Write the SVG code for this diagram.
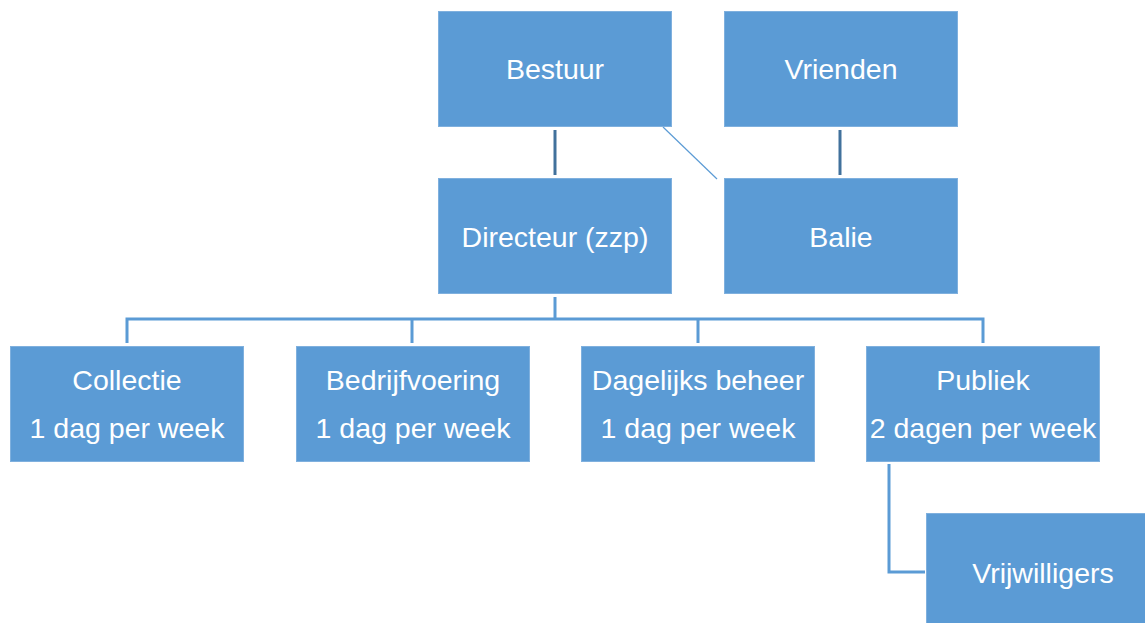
<svg xmlns="http://www.w3.org/2000/svg" width="1145" height="623" viewBox="0 0 1145 623">
<style>
.box{fill:#5B9BD5;stroke:#7FB0DE;stroke-width:1}
.t{font-family:"Liberation Sans",Arial,sans-serif;font-size:28.5px;fill:#FFFFFF;text-anchor:middle}
.c{fill:none;stroke:#5B9BD5;stroke-width:3}
.d{fill:none;stroke:#41719C;stroke-width:3}
.thin{fill:none;stroke:#5B9BD5;stroke-width:1.2}
</style>
<rect width="1145" height="623" fill="#FFFFFF"/>
<g id="connectors">
<line class="d" x1="555" y1="130" x2="555" y2="175"/>
<line class="d" x1="840" y1="130" x2="840" y2="175"/>
<line class="thin" x1="663" y1="127" x2="717" y2="179"/>
<polyline class="c" points="555,297 555,319"/>
<polyline class="c" points="127,343 127,319 983,319 983,343"/>
<line class="c" x1="412" y1="319" x2="412" y2="343"/>
<line class="c" x1="698" y1="319" x2="698" y2="343"/>
<polyline class="c" points="889,464 889,572 925,572"/>
</g>
<g id="bestuur"><rect class="box" x="438.5" y="11.5" width="233" height="115"/><text class="t" x="555" y="79">Bestuur</text></g>
<g id="vrienden"><rect class="box" x="724.5" y="11.5" width="233" height="115"/><text class="t" x="841" y="79">Vrienden</text></g>
<g id="directeur"><rect class="box" x="438.5" y="178.5" width="233" height="115"/><text class="t" x="555" y="247">Directeur (zzp)</text></g>
<g id="balie"><rect class="box" x="724.5" y="178.5" width="233" height="115"/><text class="t" x="841" y="247">Balie</text></g>
<g id="collectie"><rect class="box" x="10.5" y="346.5" width="233" height="115"/><text class="t" x="127" y="390">Collectie</text><text class="t" x="127" y="438">1 dag per week</text></g>
<g id="bedrijfvoering"><rect class="box" x="296.5" y="346.5" width="233" height="115"/><text class="t" x="413" y="390">Bedrijfvoering</text><text class="t" x="413" y="438">1 dag per week</text></g>
<g id="dagelijks"><rect class="box" x="581.5" y="346.5" width="233" height="115"/><text class="t" x="698" y="390">Dagelijks beheer</text><text class="t" x="698" y="438">1 dag per week</text></g>
<g id="publiek"><rect class="box" x="866.5" y="346.5" width="233" height="115"/><text class="t" x="983" y="390">Publiek</text><text class="t" x="983" y="438">2 dagen per week</text></g>
<g id="vrijwilligers"><rect class="box" x="926.5" y="513.5" width="222" height="115"/><text class="t" x="1043" y="583">Vrijwilligers</text></g>
</svg>
